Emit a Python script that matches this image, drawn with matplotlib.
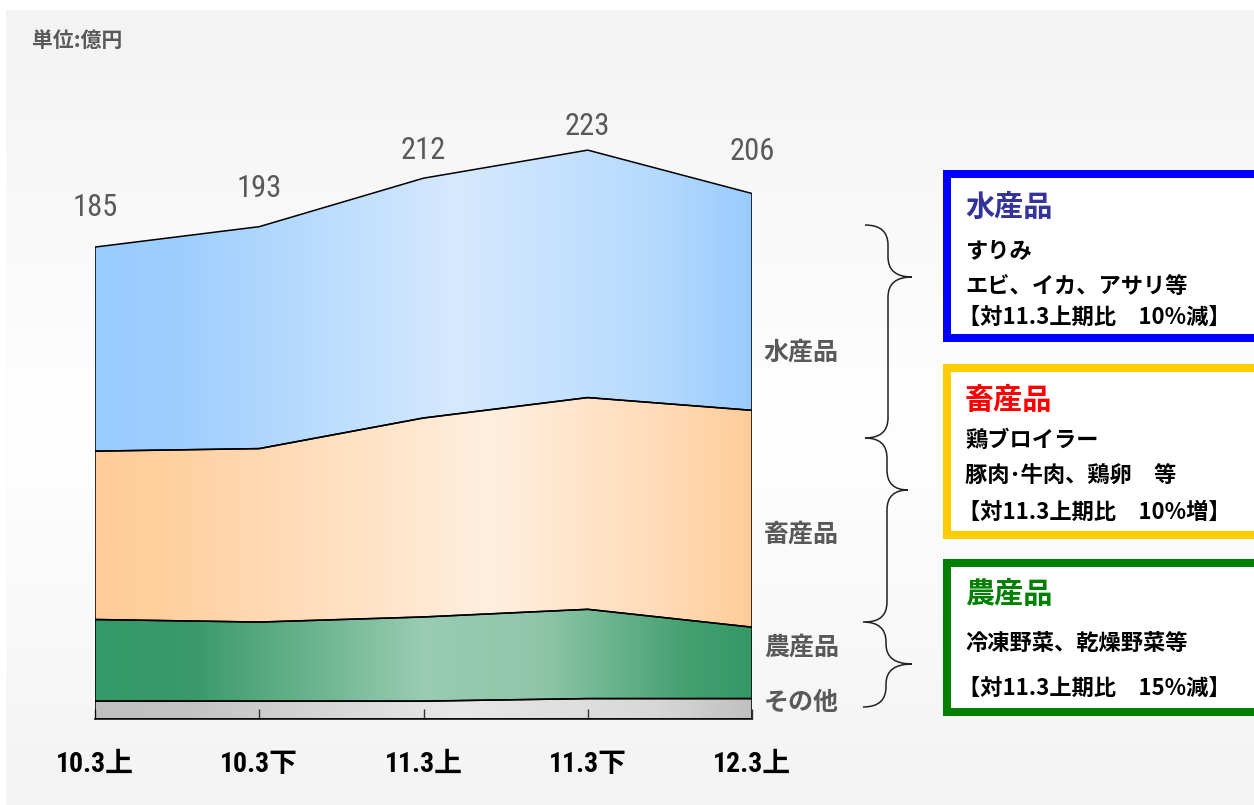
import numpy as np
import matplotlib
matplotlib.use("Agg")
import matplotlib.pyplot as plt
from matplotlib.colors import LinearSegmentedColormap
from matplotlib.path import Path
from matplotlib.patches import PathPatch, Rectangle
from matplotlib import font_manager as fm

# ---------------- data ----------------
periods = ["10.3上", "10.3下", "11.3上", "11.3下", "12.3上"]
other = [7, 7, 7, 8, 8]
agri = [32, 31, 33, 35, 28]
livestock = [66, 68, 78, 83, 85]
fish = [80, 87, 94, 97, 85]
totals = [185, 193, 212, 223, 206]
layer_names = ["その他", "農産品", "畜産品", "水産品"]
unit_label = "単位:億円"

# ---------------- fonts ----------------
names = {f.name for f in fm.fontManager.ttflist}
narrow = "Liberation Sans"
for cand in ["Liberation Sans Narrow", "DejaVu Sans Condensed", "Roboto Condensed"]:
    if cand in names:
        narrow = cand
        break
CJK = "Noto Sans CJK JP"
num_family = [narrow, CJK, "DejaVu Sans"]
cjk_family = [CJK, "DejaVu Sans"]
plt.rcParams["font.family"] = cjk_family

W, H = 1254, 805
fig = plt.figure(figsize=(W / 100, H / 100), dpi=100)
fig.patch.set_facecolor("white")


def fx(x):
    return x / W


def fy(y):
    return 1 - y / H


# background panel with soft vertical gradient
bg = fig.add_axes([fx(6), fy(805), fx(1254 - 6), (805 - 10) / H])
bg.set_axis_off()
bg_cmap = LinearSegmentedColormap.from_list(
    "bg", [(0, "#f3f3f3"), (0.45, "#fdfdfd"), (0.6, "#fdfdfd"), (1, "#f3f3f3")])
bg.imshow(np.linspace(0, 1, 256).reshape(-1, 1), cmap=bg_cmap, aspect="auto",
          extent=[0, 1, 0, 1])
bg.set_xlim(0, 1)
bg.set_ylim(0, 1)

# ---------------- main axes ----------------
base_px, left_px, right_px = 719, 95, 752
ppu = 2.551
ymax = 260
ax = fig.add_axes([fx(left_px), fy(base_px), fx(right_px - left_px), ymax * ppu / H])
ax.set_facecolor("none")
x = np.arange(len(periods))

layers = [other, agri, livestock, fish]
cum = np.cumsum(np.array(layers, dtype=float), axis=0)
lowers = [np.zeros(len(x))] + [cum[i] for i in range(len(layers) - 1)]

grads = [
    [(0, "#c0c0c0"), (0.15, "#c4c4c4"), (0.55, "#e8e8e8"), (0.85, "#d8d8d8"), (1, "#c0c0c0")],
    [(0, "#339966"), (0.15, "#3a9a69"), (0.5, "#99ccb3"), (0.68, "#8fc6aa"), (0.9, "#45a070"), (1, "#339966")],
    [(0, "#ffcc99"), (0.1, "#ffcf9e"), (0.6, "#ffefdf"), (0.85, "#ffdcba"), (1, "#ffcc99")],
    [(0, "#99ccff"), (0.12, "#9dceff"), (0.55, "#d6e9fd"), (0.85, "#b6dafe"), (1, "#99ccff")],
]

gradient = np.linspace(0, 1, 512).reshape(1, -1)
for i, (lo, hi) in enumerate(zip(lowers, cum)):
    coll = ax.fill_between(x, lo, hi, facecolor="none", edgecolor="black",
                           linewidth=1.1, zorder=3)
    cmap = LinearSegmentedColormap.from_list(f"g{i}", grads[i])
    im = ax.imshow(gradient, cmap=cmap, aspect="auto",
                   extent=[0, len(periods) - 1, 0, ymax], zorder=1)
    im.set_clip_path(coll.get_paths()[0], transform=ax.transData)

ax.set_xlim(0, len(periods) - 1)
ax.set_ylim(0, ymax)

for s in ["top", "right", "left"]:
    ax.spines[s].set_visible(False)
ax.spines["bottom"].set_color("black")
ax.spines["bottom"].set_linewidth(1.1)
ax.spines["bottom"].set_zorder(4)
ax.set_yticks([])
ax.set_xticks(x)
ax.set_xticklabels(periods, fontfamily=num_family, fontweight="bold",
                   fontsize=20, color="black")
ax.tick_params(axis="x", direction="in", length=7, width=1, color="#333333",
               pad=23)

# total labels
label_dy = [40, 38, 28, 24, 42]
for xi, t, dy in zip(x, totals, label_dy):
    ax.annotate(str(t), xy=(xi, t), xytext=(0, dy), textcoords="offset pixels",
                ha="center", va="center", fontsize=22, color="#595959",
                fontfamily=num_family)

# unit label
fig.text(fx(32), fy(40), unit_label, fontsize=15, fontweight="bold",
         color="#595959", ha="left", va="center", family=cjk_family)

# category labels on the right of the plot
cat_pos = {"水産品": 353, "畜産品": 535, "農産品": 648, "その他": 703}
for name in layer_names:
    fig.text(fx(764), fy(cat_pos[name]), name, fontsize=18, fontweight="bold",
             color="#595959", ha="left", va="center", family=cjk_family)


# braces
def brace(x0, xm, xt, ytop, ytip, ybot, r=20):
    pts = [(x0, ytop), (xm, ytop), (xm, ytop + r),
           (xm, ytip - r), (xm, ytip), (xt, ytip),
           (xm, ytip), (xm, ytip + r),
           (xm, ybot - r), (xm, ybot), (x0, ybot)]
    codes = [Path.MOVETO, Path.CURVE3, Path.CURVE3,
             Path.LINETO, Path.CURVE3, Path.CURVE3,
             Path.CURVE3, Path.CURVE3,
             Path.LINETO, Path.CURVE3, Path.CURVE3]
    verts = [(fx(a), fy(b)) for a, b in pts]
    fig.add_artist(PathPatch(Path(verts, codes), transform=fig.transFigure,
                             facecolor="none", edgecolor="#222222", linewidth=1.1))


brace(865, 888, 912, 225, 277, 438)
brace(865, 887, 908, 438, 490, 622)
brace(863, 886, 912, 622, 664, 707)

# boxes on the far right
boxes = [
    dict(top=170, bottom=342, color="#0000ff", title="水産品", tcolor="#333399",
         ty=207, lines=["すりみ", "エビ、イカ、アサリ等", "【対11.3上期比　10%減】"],
         ly=[251, 286, 318]),
    dict(top=364, bottom=539, color="#ffcc00", title="畜産品", tcolor="#ff0000",
         ty=400, lines=["鶏ブロイラー", "豚肉･牛肉、鶏卵　等", "【対11.3上期比　10%増】"],
         ly=[440, 476, 512]),
    dict(top=559, bottom=716, color="#008000", title="農産品", tcolor="#008000",
         ty=594, lines=["冷凍野菜、乾燥野菜等", "【対11.3上期比　15%減】"],
         ly=[643, 689]),
]
bw = 8
for b in boxes:
    x0, x1 = 943 + bw / 2, 1254 + 20
    fig.add_artist(Rectangle((fx(x0), fy(b["bottom"] - bw / 2)), fx(x1 - x0),
                             (b["bottom"] - b["top"] - bw) / H,
                             transform=fig.transFigure, facecolor="white",
                             edgecolor=b["color"], linewidth=bw * 0.72,
                             clip_on=False))
    fig.text(fx(965), fy(b["ty"]), b["title"], fontsize=21, fontweight="bold",
             color=b["tcolor"], ha="left", va="center", family=cjk_family)
    for line, yy in zip(b["lines"], b["ly"]):
        xoff = 958 if line.startswith("【") else 965
        fig.text(fx(xoff), fy(yy), line, fontsize=16, fontweight="bold",
                 color="black", ha="left", va="center", family=cjk_family)

fig.savefig("out.png", dpi=100)
